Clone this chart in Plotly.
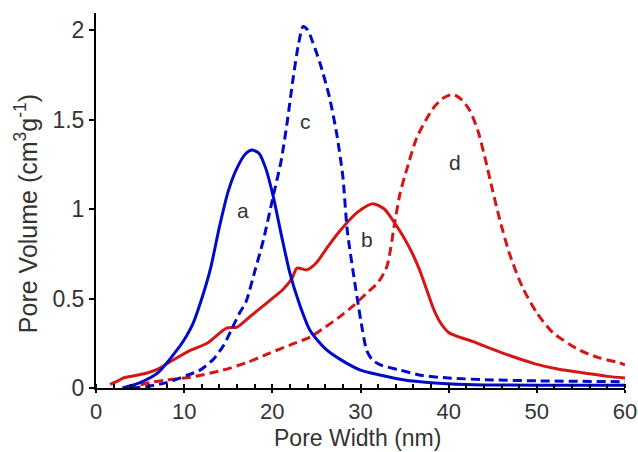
import plotly.graph_objects as go

# Curve a (solid blue)
a_x = [3, 5, 7, 9, 10, 11, 12, 13, 14, 15, 16, 17, 17.7, 18.5, 19.3, 20.1, 21, 22, 23, 24.3, 26, 27.7, 30, 32.2, 35, 38, 42, 50, 60]
a_y = [0.0, 0.03, 0.084, 0.2, 0.27, 0.36, 0.5, 0.67, 0.9, 1.1, 1.23, 1.31, 1.33, 1.31, 1.22, 1.07, 0.86, 0.64, 0.48, 0.32, 0.22, 0.16, 0.1, 0.073, 0.045, 0.03, 0.02, 0.015, 0.015]

# Curve c (dashed blue)
c_x = [4, 6, 8, 10.3, 11.8, 13.3, 14.5, 15.5, 16.3, 17, 18, 19, 20, 21, 21.7, 22.3, 23, 23.5, 24, 24.6, 25.5, 26.5, 27.3, 28, 28.5, 29.6, 30.2, 30.7, 31.3, 32.2, 34.5, 37, 40, 45, 50, 60]
c_y = [0.0, 0.01, 0.03, 0.07, 0.1, 0.16, 0.24, 0.34, 0.42, 0.48, 0.65, 0.83, 1.05, 1.27, 1.49, 1.71, 1.93, 2.02, 2.0, 1.93, 1.8, 1.62, 1.42, 1.18, 0.88, 0.51, 0.33, 0.21, 0.16, 0.13, 0.1, 0.07, 0.056, 0.045, 0.04, 0.035]

# Curve b (solid red)
b_x = [1.6, 2.5, 3.1, 4.5, 5.8, 7.2, 8.7, 10.7, 12.6, 14.8, 16, 17.5, 19.5, 21.2, 22.2, 22.8, 23.9, 25, 26.3, 27.7, 29.6, 31.4, 32.7, 33.9, 34.8, 35.9, 36.7, 37.5, 38.3, 39, 40, 40.9, 42.7, 44.8, 47, 49.8, 52.5, 55.4, 58, 60]
b_y = [0.02, 0.04, 0.056, 0.07, 0.084, 0.11, 0.155, 0.21, 0.25, 0.335, 0.34, 0.4, 0.48, 0.55, 0.61, 0.67, 0.66, 0.7, 0.79, 0.88, 0.98, 1.03, 1.0, 0.92, 0.85, 0.75, 0.66, 0.55, 0.44, 0.37, 0.31, 0.29, 0.26, 0.22, 0.18, 0.135, 0.105, 0.084, 0.065, 0.056]

# Curve d (dashed red)
d_x = [3.5, 6.1, 8, 10.7, 14.4, 17, 19.7, 22, 24.3, 26, 27.7, 29.2, 30.7, 32, 33, 33.9, 34.5, 35.3, 36.4, 38.2, 39.4, 40.5, 41.5, 42.4, 43.3, 44.1, 45, 45.8, 46.9, 48.4, 50, 51.8, 54.9, 57, 59.4, 60]
d_y = [0.0, 0.03, 0.045, 0.06, 0.1, 0.14, 0.195, 0.24, 0.285, 0.34, 0.4, 0.46, 0.53, 0.59, 0.68, 0.93, 1.09, 1.23, 1.40, 1.56, 1.62, 1.64, 1.61, 1.55, 1.44, 1.29, 1.1, 0.94, 0.75, 0.56, 0.42, 0.31, 0.21, 0.17, 0.14, 0.13]

labels = ["a", "b", "c", "d"]
label_x = [16.7, 30.7, 23.8, 40.7]
label_y = [0.99, 0.83, 1.49, 1.26]

x_ticks = [0, 10, 20, 30, 40, 50, 60]
y_ticks = [0, 0.5, 1, 1.5, 2]
y_tick_text = ["0", "0.5", "1", "1.5", "2"]

BLUE = "rgb(0,10,200)"
RED = "rgb(212,22,22)"
DASH = "9px,5px"
FONT = "Liberation Sans, Arial, sans-serif"
TXT = "#333"

fig = go.Figure()
fig.add_trace(go.Scatter(x=b_x, y=b_y, mode="lines", line=dict(color=RED, width=3, shape="spline", smoothing=0.7)))
fig.add_trace(go.Scatter(x=d_x, y=d_y, mode="lines", line=dict(color=RED, width=3, dash=DASH, shape="spline", smoothing=0.7)))
fig.add_trace(go.Scatter(x=a_x, y=a_y, mode="lines", line=dict(color=BLUE, width=3, shape="spline", smoothing=0.7)))
fig.add_trace(go.Scatter(x=c_x, y=c_y, mode="lines", line=dict(color=BLUE, width=3, dash=DASH, shape="spline", smoothing=0.7)))

for t, lx, ly in zip(labels, label_x, label_y):
    fig.add_annotation(x=lx, y=ly, text=t, showarrow=False,
                       font=dict(family=FONT, size=21, color=TXT))

# axis titles as annotations for precise placement
fig.add_annotation(x=-0.132, y=0.464, xref="paper", yref="paper", textangle=-90,
                   text="Pore Volume (cm<sup>3</sup>g<sup>-1</sup>)", showarrow=False,
                   xanchor="center", yanchor="middle",
                   font=dict(family=FONT, size=25, color=TXT))
fig.add_annotation(x=0.494, y=-0.133, xref="paper", yref="paper",
                   text="Pore Width (nm)", showarrow=False,
                   xanchor="center", yanchor="middle",
                   font=dict(family=FONT, size=23, color=TXT))

fig.update_layout(
    width=638, height=452,
    margin=dict(l=96, r=13, t=13, b=64),
    plot_bgcolor="white", paper_bgcolor="white",
    showlegend=False,
    font=dict(family=FONT, size=22, color=TXT),
)
fig.update_xaxes(
    range=[0, 60], tickvals=x_ticks, showgrid=False, zeroline=False, automargin=False,
    showline=True, linecolor="black", linewidth=2,
    ticks="outside", ticklen=3, tickwidth=2, tickcolor="black",
    minor=dict(ticks="inside", dtick=2, ticklen=4, tickwidth=1.5, tickcolor="black"),
    tickfont=dict(family=FONT, size=22, color=TXT),
)
fig.update_yaxes(
    range=[0, 2.095], tickvals=y_ticks, ticktext=y_tick_text, showgrid=False, zeroline=False, automargin=False,
    showline=True, linecolor="black", linewidth=2,
    ticks="outside", ticklen=5, tickwidth=2, tickcolor="black",
    tickfont=dict(family=FONT, size=23, color=TXT),
)

fig.write_html("out.html")
